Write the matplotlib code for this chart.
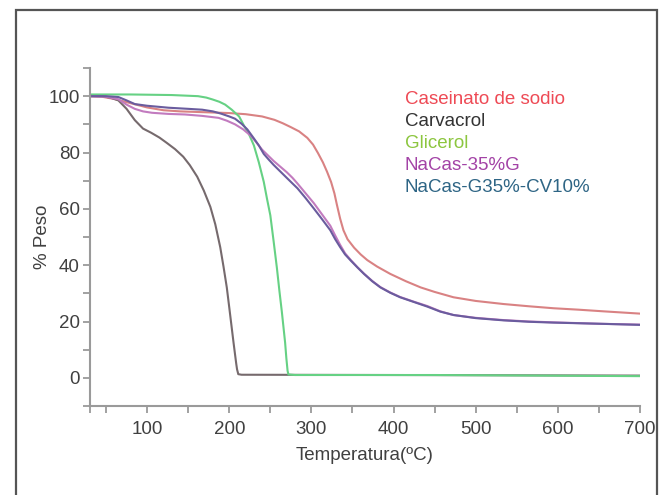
import matplotlib
matplotlib.use("Agg")
import matplotlib.pyplot as plt
from matplotlib.patches import Rectangle
from matplotlib.ticker import FixedLocator

plt.rcParams['font.family'] = ['Liberation Sans', 'DejaVu Sans']

# Thermogravimetric curves: temperature (ºC) vs. remaining mass (%)
caseinato_t = [30, 45, 60, 80, 100, 120, 140, 170, 200, 220, 240, 255, 265, 275, 285,
               295, 302, 308, 314, 319, 324, 328, 331, 335, 339, 344, 352, 360, 368,
               380, 396, 415, 433, 450, 473, 500, 534, 565, 595, 625, 656, 700]
caseinato_w = [100, 99.8, 99, 97.5, 96, 95, 94.6, 94.3, 94, 93.6, 92.8, 91.6, 90.4, 89,
               87.5, 85.2, 82.8, 79.8, 76.5, 73.2, 69.5, 65.5, 61.5, 56.5, 52.4, 49.2,
               46.2, 43.8, 41.8, 39.5, 36.9, 34.3, 32.1, 30.5, 28.6, 27.3, 26.2, 25.4,
               24.7, 24.2, 23.6, 22.8]

carvacrol_t = [30, 45, 55, 65, 75, 85, 95, 105, 115, 124, 134, 144, 152, 161, 169, 177,
               183, 189, 193, 197, 200, 203, 205, 207, 208.5, 209.5, 211, 215, 400, 700]
carvacrol_w = [100, 100, 99.5, 98.5, 95.5, 91.5, 88.5, 87, 85.3, 83.4, 81.2, 78.5, 75.5,
               71.4, 66.5, 60.7, 54.5, 46.4, 39.5, 32.1, 25, 17.8, 13, 8.4, 5, 3, 1.3,
               1.1, 1, 0.8]

glicerol_t = [30, 80, 130, 162, 172, 180, 188, 195, 203, 212, 218, 224, 230, 236, 242,
              246, 250, 254, 258, 261, 264, 266, 268, 269.5, 271, 272, 280, 450, 700]
glicerol_w = [100.6, 100.6, 100.4, 100, 99.5, 98.8, 98, 97, 95.2, 92.8, 89.5, 86.5, 82.5,
              76.5, 69.6, 63.5, 57.7, 48.5, 39, 31, 23.5, 18, 12.5, 7, 2.5, 1.2, 1, 1,
              0.6]

nacas_g_t = [30, 50, 65, 75, 85, 95, 106, 126, 146, 167, 187, 197, 207, 217, 226, 233,
             240, 247, 254, 262, 270, 277, 283, 293, 303, 313, 323, 329, 335, 341, 348,
             356, 364, 374, 384, 396, 408, 425, 441, 457, 473, 500, 534, 565, 595, 650,
             700]
nacas_g_w = [100, 99.8, 98.9, 97, 95.5, 94.6, 94.1, 93.7, 93.5, 93, 92.3, 91.3, 90, 88.2,
             86, 83.6, 81, 79, 77, 75, 73, 71, 69, 65.5, 62, 58, 54, 50.5, 47.2, 44.2,
             41.8, 39.3, 37, 34.4, 32.2, 30.3, 28.7, 27, 25.5, 23.6, 22.3, 21.3, 20.5,
             20, 19.7, 19.2, 18.9]

nacas_cv_t = [30, 50, 65, 75, 85, 100, 126, 150, 167, 180, 190, 200, 207, 215, 222, 230,
              236, 242, 248, 254, 262, 270, 277, 283, 293, 303, 313, 323, 329, 335, 341,
              348, 356, 364, 374, 384, 396, 408, 425, 441, 457, 473, 500, 534, 565, 595,
              650, 700]
nacas_cv_w = [100, 100, 99.7, 98.5, 97.2, 96.6, 95.9, 95.5, 95.2, 94.6, 93.8, 92.8, 92,
              90.2, 88.2, 85, 82.5, 79.5, 77.5, 75.6, 73.3, 71, 69, 67.3, 63.8, 60.1,
              56.3, 52.4, 49.2, 46.4, 43.8, 41.6, 39.2, 36.9, 34.3, 32.1, 30.2, 28.6,
              26.9, 25.3, 23.5, 22.3, 21.2, 20.4, 19.9, 19.6, 19.2, 18.8]

series = [
    ("Caseinato de sodio", caseinato_t, caseinato_w, "#d98283", "#ee4a55"),
    ("Carvacrol", carvacrol_t, carvacrol_w, "#766a6d", "#333333"),
    ("Glicerol", glicerol_t, glicerol_w, "#66d184", "#8cc63f"),
    ("NaCas-35%G", nacas_g_t, nacas_g_w, "#c27bbf", "#a343a6"),
    ("NaCas-G35%-CV10%", nacas_cv_t, nacas_cv_w, "#6a5c9e", "#2e6585"),
]

x_major = [100, 200, 300, 400, 500, 600, 700]
x_minor = [30, 50, 150, 250, 350, 450, 550, 650]
y_major = [0, 20, 40, 60, 80, 100]
y_minor = [-10, 10, 30, 50, 70, 90, 110]

fig = plt.figure(figsize=(6.6, 4.95), dpi=100)
fig.patches.append(Rectangle((16 / 660, -0.1), (657 - 16) / 660, 1.1 - 10 / 495,
                             transform=fig.transFigure, fill=False,
                             edgecolor="#555555", linewidth=1.6))

ax = fig.add_axes([89.6 / 660, 1 - 406 / 495, (640 - 89.6) / 660, (406 - 68) / 495])

for name, t, w, line_c, text_c in series:
    ax.plot(t, w, color=line_c, linewidth=1.5, solid_capstyle="round",
            solid_joinstyle="round")

ax.set_xlim(30, 700)
ax.set_ylim(-10, 110)
ax.xaxis.set_major_locator(FixedLocator(x_major))
ax.xaxis.set_minor_locator(FixedLocator(x_minor))
ax.yaxis.set_major_locator(FixedLocator(y_major))
ax.yaxis.set_minor_locator(FixedLocator(y_minor))

for side in ("top", "right"):
    ax.spines[side].set_visible(False)
for side in ("left", "bottom"):
    ax.spines[side].set_color("#9a9a9a")
    ax.spines[side].set_linewidth(1.5)

ax.tick_params(which="both", direction="out", color="#9a9a9a", width=1.3,
               labelsize=13.5, labelcolor="#404040")
ax.tick_params(which="major", length=5)
ax.tick_params(which="minor", length=5)
ax.tick_params(axis="y", pad=2)
ax.tick_params(axis="x", pad=6)

ax.set_xlabel("Temperatura(ºC)", fontsize=13.5, color="#404040", labelpad=6)
ax.set_ylabel("% Peso", fontsize=13.5, color="#404040")
ax.yaxis.set_label_coords((51 - 89.6) / 550.4, 0.5)

for i, (name, t, w, line_c, text_c) in enumerate(series):
    fig.text(405 / 660, 1 - (99.5 + 22 * i) / 495, name, color=text_c, fontsize=13.5,
             ha="left", va="center")

fig.savefig("out.png", dpi=100)
